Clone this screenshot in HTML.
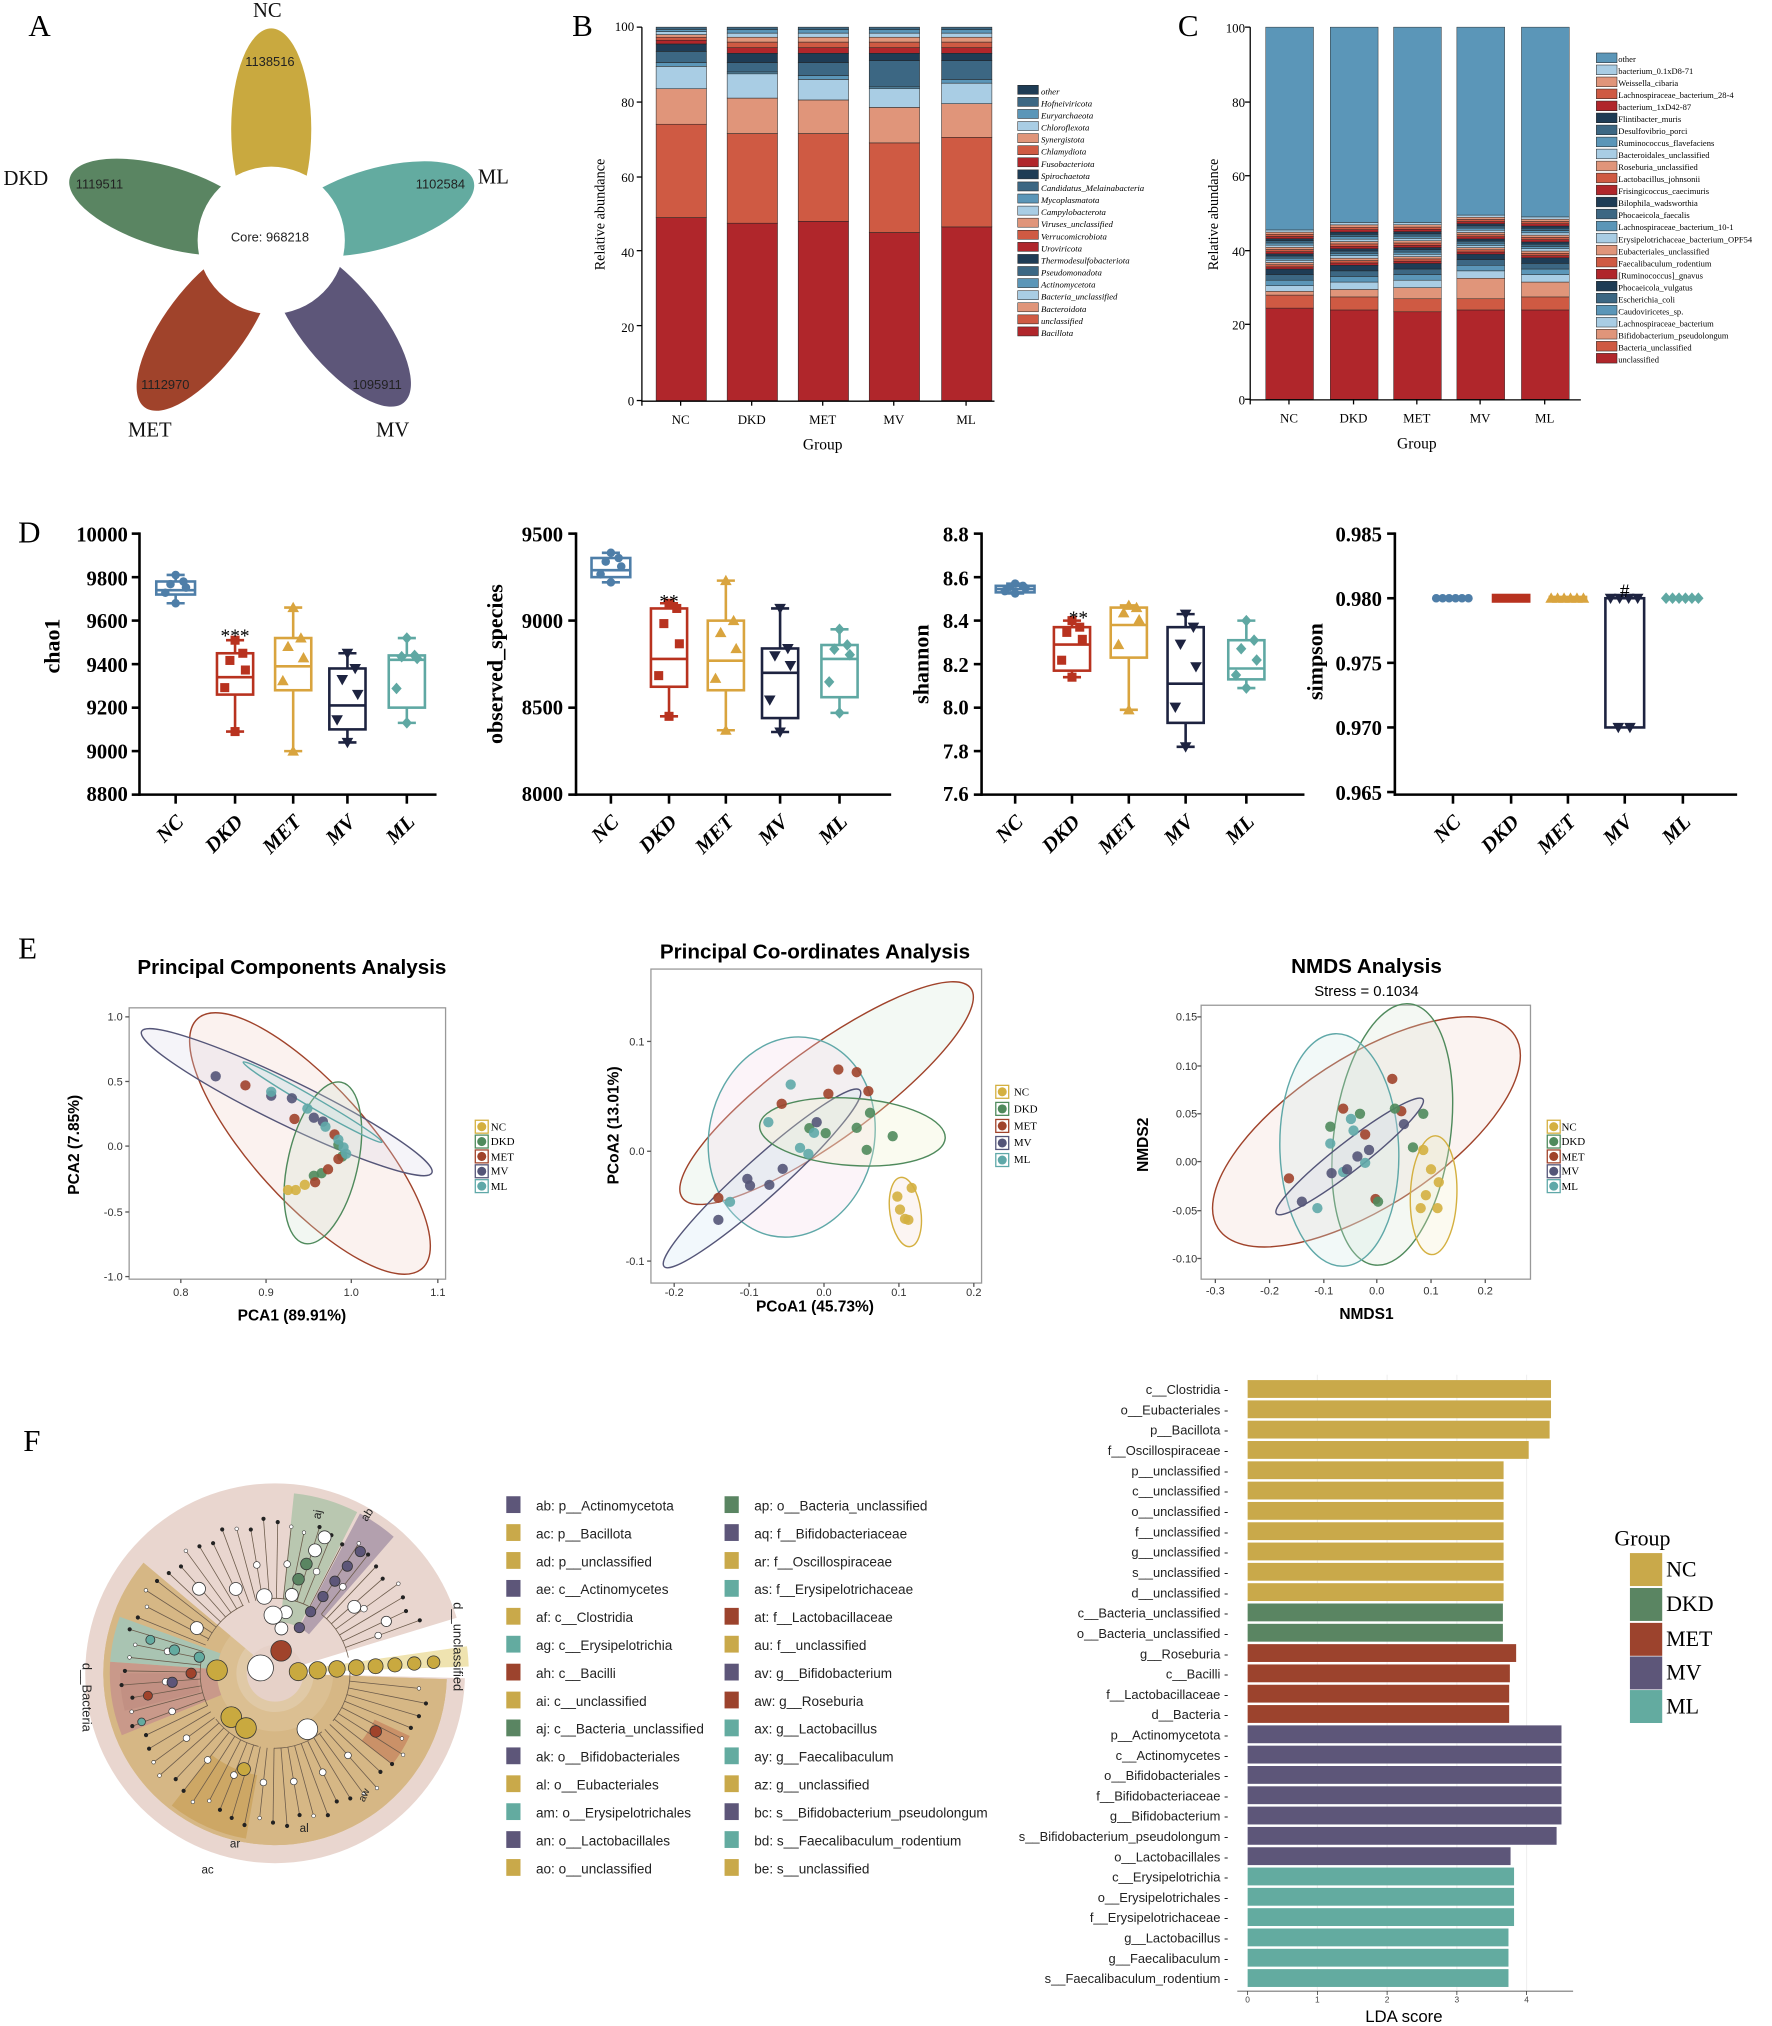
<!DOCTYPE html>
<html><head><meta charset="utf-8">
<style>
html,body{margin:0;padding:0;background:#fff;}
svg{display:block;}
.ser{font-family:"Liberation Serif",serif;}
.sans{font-family:"Liberation Sans",sans-serif;}
</style></head>
<body>
<svg id="s" xmlns="http://www.w3.org/2000/svg" width="1772" height="2026" viewBox="0 0 1372 1568" preserveAspectRatio="none">
<g id="sh"></g>

<!-- Panel A -->
<g>
<ellipse cx="210" cy="100" rx="31" ry="78" fill="#c9a93f"/>
<ellipse cx="210" cy="100" rx="31" ry="78" fill="#63aba0" transform="rotate(74 210 185)"/>
<ellipse cx="210" cy="100" rx="31" ry="78" fill="#5a8562" transform="rotate(-73 210 185)"/>
<ellipse cx="210" cy="100" rx="31" ry="78" fill="#a0432b" transform="rotate(-143 210 185)"/>
<ellipse cx="210" cy="100" rx="31" ry="78" fill="#5d5679" transform="rotate(141 210 185)"/>
<circle cx="210" cy="186" r="57" fill="#fff"/>
<g class="sans" font-size="10" fill="#222" text-anchor="middle">
<text x="209" y="187">Core: 968218</text>
<text x="209" y="51">1138516</text>
<text x="77" y="146">1119511</text>
<text x="341" y="146">1102584</text>
<text x="128" y="301">1112970</text>
<text x="292" y="301">1095911</text>
</g>
<g class="ser" font-size="16" fill="#111" text-anchor="middle">
<text x="207" y="13">NC</text>
<text x="20" y="143">DKD</text>
<text x="382" y="142">ML</text>
<text x="116" y="338">MET</text>
<text x="304" y="338">MV</text>
</g>
<text x="22" y="28" class="ser" font-size="24">A</text>
</g>

<!-- Panel B -->
<g class="ser">
<text x="443" y="28" font-size="24">B</text>
<line x1="497" y1="21" x2="497" y2="311" stroke="#000" stroke-width="1"/>
<line x1="497" y1="310.5" x2="770" y2="310.5" stroke="#000" stroke-width="1"/>
<g font-size="10" text-anchor="end">
<text x="491" y="24">100</text><text x="491" y="83">80</text><text x="491" y="141">60</text><text x="491" y="199">40</text><text x="491" y="257">20</text><text x="491" y="314">0</text>
</g>
<g font-size="10" text-anchor="middle">
<text x="527" y="328">NC</text><text x="582" y="328">DKD</text><text x="637" y="328">MET</text><text x="692" y="328">MV</text><text x="748" y="328">ML</text>
<text x="637" y="348" font-size="12">Group</text>
</g>
<text transform="translate(468 166) rotate(-90)" font-size="11" text-anchor="middle">Relative abundance</text>
<g font-size="6.8" font-style="italic">
<text x="806" y="73">other</text><text x="806" y="82.3">Hofneiviricota</text><text x="806" y="91.7">Euryarchaeota</text><text x="806" y="101">Chloroflexota</text><text x="806" y="110.4">Synergistota</text><text x="806" y="119.7">Chlamydiota</text><text x="806" y="129.1">Fusobacteriota</text><text x="806" y="138.4">Spirochaetota</text><text x="806" y="147.8">Candidatus_Melainabacteria</text><text x="806" y="157.1">Mycoplasmatota</text><text x="806" y="166.5">Campylobacterota</text><text x="806" y="175.8">Viruses_unclassified</text><text x="806" y="185.2">Verrucomicrobiota</text><text x="806" y="194.5">Uroviricota</text><text x="806" y="203.9">Thermodesulfobacteriota</text><text x="806" y="213.2">Pseudomonadota</text><text x="806" y="222.6">Actinomycetota</text><text x="806" y="231.9">Bacteria_unclassified</text><text x="806" y="241.3">Bacteroidota</text><text x="806" y="250.6">unclassified</text><text x="806" y="260">Bacillota</text>
</g>
</g>

<!-- Panel C -->
<g class="ser">
<text x="912" y="28" font-size="24">C</text>
<line x1="968" y1="21" x2="968" y2="310" stroke="#000"/>
<line x1="968" y1="309.5" x2="1224" y2="309.5" stroke="#000"/>
<g font-size="10" text-anchor="end">
<text x="964" y="25">100</text><text x="964" y="83">80</text><text x="964" y="140">60</text><text x="964" y="198">40</text><text x="964" y="255">20</text><text x="964" y="313">0</text>
</g>
<g font-size="10" text-anchor="middle">
<text x="998" y="327">NC</text><text x="1048" y="327">DKD</text><text x="1097" y="327">MET</text><text x="1146" y="327">MV</text><text x="1196" y="327">ML</text>
<text x="1097" y="347" font-size="12">Group</text>
</g>
<text transform="translate(943 166) rotate(-90)" font-size="11" text-anchor="middle">Relative abundance</text>
<g font-size="6.6">
<text x="1253" y="48">other</text><text x="1253" y="57.3">bacterium_0.1xD8-71</text><text x="1253" y="66.6">Weissella_cibaria</text><text x="1253" y="75.9">Lachnospiraceae_bacterium_28-4</text><text x="1253" y="85.2">bacterium_1xD42-87</text><text x="1253" y="94.5">Flintibacter_muris</text><text x="1253" y="103.8">Desulfovibrio_porci</text><text x="1253" y="113.1">Ruminococcus_flavefaciens</text><text x="1253" y="122.4">Bacteroidales_unclassified</text><text x="1253" y="131.7">Roseburia_unclassified</text><text x="1253" y="141">Lactobacillus_johnsonii</text><text x="1253" y="150.3">Frisingicoccus_caecimuris</text><text x="1253" y="159.6">Bilophila_wadsworthia</text><text x="1253" y="168.9">Phocaeicola_faecalis</text><text x="1253" y="178.2">Lachnospiraceae_bacterium_10-1</text><text x="1253" y="187.5">Erysipelotrichaceae_bacterium_OPF54</text><text x="1253" y="196.8">Eubacteriales_unclassified</text><text x="1253" y="206.1">Faecalibaculum_rodentium</text><text x="1253" y="215.4">[Ruminococcus]_gnavus</text><text x="1253" y="224.7">Phocaeicola_vulgatus</text><text x="1253" y="234">Escherichia_coli</text><text x="1253" y="243.3">Caudoviricetes_sp.</text><text x="1253" y="252.6">Lachnospiraceae_bacterium</text><text x="1253" y="261.9">Bifidobacterium_pseudolongum</text><text x="1253" y="271.2">Bacteria_unclassified</text><text x="1253" y="280.5">unclassified</text>
</g>
</g>

<!-- Panel D -->
<g class="ser" font-weight="bold">
<text x="14" y="420" font-size="24" font-weight="normal">D</text>
<g font-size="16" text-anchor="end">
<text x="99" y="419">10000</text><text x="99" y="453">9800</text><text x="99" y="486">9600</text><text x="99" y="520">9400</text><text x="99" y="553">9200</text><text x="99" y="587">9000</text><text x="99" y="620">8800</text>
<text x="436" y="419">9500</text><text x="436" y="486">9000</text><text x="436" y="553">8500</text><text x="436" y="620">8000</text>
<text x="750" y="419">8.8</text><text x="750" y="453">8.6</text><text x="750" y="486">8.4</text><text x="750" y="520">8.2</text><text x="750" y="553">8.0</text><text x="750" y="587">7.8</text><text x="750" y="620">7.6</text>
<text x="1070" y="419">0.985</text><text x="1070" y="469">0.980</text><text x="1070" y="519">0.975</text><text x="1070" y="569">0.970</text><text x="1070" y="619">0.965</text>
</g>
<g font-size="17" text-anchor="middle">
<text transform="translate(46 500) rotate(-90)">chao1</text>
<text transform="translate(389 514) rotate(-90)">observed_species</text>
<text transform="translate(719 514) rotate(-90)">shannon</text>
<text transform="translate(1024 512) rotate(-90)">simpson</text>
</g>
<g font-size="16" font-style="italic" text-anchor="end">
<text transform="translate(143 637) rotate(-45)">NC</text><text transform="translate(189 637) rotate(-45)">DKD</text><text transform="translate(234 637) rotate(-45)">MET</text><text transform="translate(276 637) rotate(-45)">MV</text><text transform="translate(322 637) rotate(-45)">ML</text>
<text transform="translate(480 637) rotate(-45)">NC</text><text transform="translate(525 637) rotate(-45)">DKD</text><text transform="translate(569 637) rotate(-45)">MET</text><text transform="translate(611 637) rotate(-45)">MV</text><text transform="translate(657 637) rotate(-45)">ML</text>
<text transform="translate(793 637) rotate(-45)">NC</text><text transform="translate(837 637) rotate(-45)">DKD</text><text transform="translate(881 637) rotate(-45)">MET</text><text transform="translate(925 637) rotate(-45)">MV</text><text transform="translate(972 637) rotate(-45)">ML</text>
<text transform="translate(1132 637) rotate(-45)">NC</text><text transform="translate(1177 637) rotate(-45)">DKD</text><text transform="translate(1221 637) rotate(-45)">MET</text><text transform="translate(1265 637) rotate(-45)">MV</text><text transform="translate(1310 637) rotate(-45)">ML</text>
</g>
<g font-size="15" font-weight="normal" text-anchor="middle">
<text x="182" y="497">***</text><text x="518" y="470">**</text><text x="835" y="483">**</text><text x="1258" y="462">#</text>
</g>
</g>

<!-- Panel E -->
<g class="sans">
<text x="14" y="742" font-size="24" class="ser">E</text>
<g font-size="16" font-weight="bold" text-anchor="middle">
<text x="226" y="754">Principal Components Analysis</text>
<text x="631" y="742">Principal Co-ordinates Analysis</text>
<text x="1058" y="753">NMDS Analysis</text>
</g>
<text x="1058" y="771" font-size="11.5" text-anchor="middle">Stress = 0.1034</text>
<g font-size="12" font-weight="bold" text-anchor="middle">
<text x="226" y="1022">PCA1 (89.91%)</text>
<text transform="translate(61 886) rotate(-90)">PCA2 (7.85%)</text>
<text x="631" y="1015">PCoA1 (45.73%)</text>
<text transform="translate(479 871) rotate(-90)">PCoA2 (13.01%)</text>
<text x="1058" y="1021">NMDS1</text>
<text transform="translate(889 886) rotate(-90)">NMDS2</text>
</g>
<g font-size="8.5" fill="#333" text-anchor="end">
<text x="95" y="790">1.0</text><text x="95" y="840">0.5</text><text x="95" y="890">0.0</text><text x="95" y="941">-0.5</text><text x="95" y="991">-1.0</text>
<text x="499" y="809">0.1</text><text x="499" y="894">0.0</text><text x="499" y="979">-0.1</text>
<text x="927" y="790">0.15</text><text x="927" y="828">0.10</text><text x="927" y="865">0.05</text><text x="927" y="902">0.00</text><text x="927" y="940">-0.05</text><text x="927" y="977">-0.10</text>
</g>
<g font-size="8.5" fill="#333" text-anchor="middle">
<text x="140" y="1003">0.8</text><text x="206" y="1003">0.9</text><text x="272" y="1003">1.0</text><text x="339" y="1003">1.1</text>
<text x="522" y="1003">-0.2</text><text x="580" y="1003">-0.1</text><text x="638" y="1003">0.0</text><text x="696" y="1003">0.1</text><text x="754" y="1003">0.2</text>
<text x="941" y="1002">-0.3</text><text x="983" y="1002">-0.2</text><text x="1025" y="1002">-0.1</text><text x="1066" y="1002">0.0</text><text x="1108" y="1002">0.1</text><text x="1150" y="1002">0.2</text>
</g>
<g font-size="8.5" class="ser">
<text x="380" y="875">NC</text><text x="380" y="886">DKD</text><text x="380" y="898">MET</text><text x="380" y="909">MV</text><text x="380" y="921">ML</text>
<text x="785" y="848">NC</text><text x="785" y="861">DKD</text><text x="785" y="874">MET</text><text x="785" y="887">MV</text><text x="785" y="900">ML</text>
<text x="1209" y="875">NC</text><text x="1209" y="886">DKD</text><text x="1209" y="898">MET</text><text x="1209" y="909">MV</text><text x="1209" y="921">ML</text>
</g>
</g>

<!-- Panel F -->
<g>
<text x="18" y="1123" font-size="24" class="ser">F</text>
<g class="sans" font-size="10" fill="#222">
<text x="351" y="1240" transform="rotate(90 351 1240)">d__unclassified</text>
<text x="64" y="1287" transform="rotate(90 64 1287)">d__Bacteria</text>
<text x="156" y="1450" font-size="9">ac</text>
<text x="178" y="1430" font-size="9">ar</text>
<text x="232" y="1418" font-size="9">al</text>
<text x="248" y="1176" font-size="9" transform="rotate(-80 248 1176)">aj</text>
<text x="284" y="1178" font-size="9" transform="rotate(-58 284 1178)">ab</text>
<text x="282" y="1395" font-size="8" transform="rotate(-65 282 1395)">aw</text>
</g>
<g class="sans" font-size="10.5" fill="#222">
<text x="415" y="1169">ab: p__Actinomycetota</text><text x="415" y="1190.6">ac: p__Bacillota</text><text x="415" y="1212.2">ad: p__unclassified</text><text x="415" y="1233.8">ae: c__Actinomycetes</text><text x="415" y="1255.4">af: c__Clostridia</text><text x="415" y="1277">ag: c__Erysipelotrichia</text><text x="415" y="1298.6">ah: c__Bacilli</text><text x="415" y="1320.2">ai: c__unclassified</text><text x="415" y="1341.8">aj: c__Bacteria_unclassified</text><text x="415" y="1363.4">ak: o__Bifidobacteriales</text><text x="415" y="1385">al: o__Eubacteriales</text><text x="415" y="1406.6">am: o__Erysipelotrichales</text><text x="415" y="1428.2">an: o__Lactobacillales</text><text x="415" y="1449.8">ao: o__unclassified</text>
<text x="584" y="1169">ap: o__Bacteria_unclassified</text><text x="584" y="1190.6">aq: f__Bifidobacteriaceae</text><text x="584" y="1212.2">ar: f__Oscillospiraceae</text><text x="584" y="1233.8">as: f__Erysipelotrichaceae</text><text x="584" y="1255.4">at: f__Lactobacillaceae</text><text x="584" y="1277">au: f__unclassified</text><text x="584" y="1298.6">av: g__Bifidobacterium</text><text x="584" y="1320.2">aw: g__Roseburia</text><text x="584" y="1341.8">ax: g__Lactobacillus</text><text x="584" y="1363.4">ay: g__Faecalibaculum</text><text x="584" y="1385">az: g__unclassified</text><text x="584" y="1406.6">bc: s__Bifidobacterium_pseudolongum</text><text x="584" y="1428.2">bd: s__Faecalibaculum_rodentium</text><text x="584" y="1449.8">be: s__unclassified</text>
</g>
<g class="sans" font-size="10" fill="#222" text-anchor="end">
<text x="951" y="1079">c__Clostridia -</text><text x="951" y="1094.7">o__Eubacteriales -</text><text x="951" y="1110.4">p__Bacillota -</text><text x="951" y="1126.2">f__Oscillospiraceae -</text><text x="951" y="1141.9">p__unclassified -</text><text x="951" y="1157.6">c__unclassified -</text><text x="951" y="1173.3">o__unclassified -</text><text x="951" y="1189">f__unclassified -</text><text x="951" y="1204.8">g__unclassified -</text><text x="951" y="1220.5">s__unclassified -</text><text x="951" y="1236.2">d__unclassified -</text><text x="951" y="1251.9">c__Bacteria_unclassified -</text><text x="951" y="1267.6">o__Bacteria_unclassified -</text><text x="951" y="1283.4">g__Roseburia -</text><text x="951" y="1299.1">c__Bacilli -</text><text x="951" y="1314.8">f__Lactobacillaceae -</text><text x="951" y="1330.5">d__Bacteria -</text><text x="951" y="1346.2">p__Actinomycetota -</text><text x="951" y="1362">c__Actinomycetes -</text><text x="951" y="1377.7">o__Bifidobacteriales -</text><text x="951" y="1393.4">f__Bifidobacteriaceae -</text><text x="951" y="1409.1">g__Bifidobacterium -</text><text x="951" y="1424.8">s__Bifidobacterium_pseudolongum -</text><text x="951" y="1440.6">o__Lactobacillales -</text><text x="951" y="1456.3">c__Erysipelotrichia -</text><text x="951" y="1472">o__Erysipelotrichales -</text><text x="951" y="1487.7">f__Erysipelotrichaceae -</text><text x="951" y="1503.4">g__Lactobacillus -</text><text x="951" y="1519.2">g__Faecalibaculum -</text><text x="951" y="1534.9">s__Faecalibaculum_rodentium -</text>
</g>
<g class="sans" font-size="6.5" fill="#444" text-anchor="middle">
<text x="966" y="1550">0</text><text x="1020" y="1550">1</text><text x="1074" y="1550">2</text><text x="1128" y="1550">3</text><text x="1182" y="1550">4</text>
</g>
<text x="1087" y="1565" class="sans" font-size="13" text-anchor="middle">LDA score</text>
<g class="ser" font-size="17">
<text x="1250" y="1196">Group</text>
<text x="1290" y="1220">NC</text><text x="1290" y="1247">DKD</text><text x="1290" y="1274">MET</text><text x="1290" y="1300">MV</text><text x="1290" y="1326">ML</text>
</g>
</g>

<script>
(function(){
const NS='http://www.w3.org/2000/svg';
const G=document.getElementById('sh');
function E(t,a,p){const e=document.createElementNS(NS,t);for(const k in a)e.setAttribute(k,a[k]);(p||G).appendChild(e);return e;}
const cyc=['#b0262b','#cf5a43','#e0957a','#a9cde4','#5b96b8','#3c6783','#1e3c55'];
const bx=[508,563,618,673,729];
const bd=[[49,74,83.5,89.5,90.5,93.5,95.5,96.5,97.3,98,98.8,99.4,100],
[47.5,71.5,81,87.5,88,90.5,93,94.5,96,97.3,98.4,99.3,100],
[48,71.5,80.5,86,87,90.5,93,94.5,96,97.3,98.4,99.3,100],
[45,69,78.5,83.5,84,91,93,94.5,96,97.3,98.4,99.3,100],
[46.5,70.5,79.5,85,86,91,93,94.5,96,97.3,98.4,99.3,100]];
const yB=v=>310-v*2.89;
bd.forEach((arr,i)=>{let prev=0;arr.forEach((v,j)=>{E('rect',{x:bx[i],y:yB(v),width:39,height:yB(prev)-yB(v),fill:cyc[j%7],stroke:'#222','stroke-width':0.4});prev=v;});});
for(let i=0;i<21;i++){E('rect',{x:788,y:66+i*9.35,width:16,height:7,fill:cyc[(20-i)%7],stroke:'#222','stroke-width':0.4});}
[497,527,582,637,692,748].forEach(x=>E('line',{x1:x,y1:310,x2:x,y2:314,stroke:'#000'}));
[21,79,137,194,252,310].forEach(y=>E('line',{x1:493,y1:y,x2:497,y2:y,stroke:'#000'}));
const cx=[980,1030,1079,1128,1178];
const cf=[[24.5,28,29,30.5,32,33.5,35,45.5],[24,27.5,29.5,31.5,33,34.5,36,47.5],[23.5,27,30,32,33.5,35,36.5,47.5],[24,27,32.5,34.5,36,37.5,39,49.5],[24,27.5,31.5,33.5,35,36.5,38,49]];
const yC=v=>309-v*2.88;
cf.forEach((a,i)=>{let vals=a.slice(0,7);const s=a[6],t=a[7];for(let k=1;k<=18;k++)vals.push(s+(t-s)*k/18);vals.push(100);
 let prev=0;vals.forEach((v,j)=>{E('rect',{x:cx[i],y:yC(v),width:37,height:Math.max(0.3,yC(prev)-yC(v)),fill:j==25?'#5b96b8':cyc[j%7],stroke:'#222','stroke-width':0.35});prev=v;});});
const cyc2=['#5b96b8','#a9cde4','#e0957a','#cf5a43','#b0262b','#1e3c55','#3c6783'];
for(let i=0;i<26;i++){E('rect',{x:1236,y:41+i*9.3,width:16,height:7.5,fill:cyc2[i%7],stroke:'#222','stroke-width':0.4});}
[968,998,1048,1097,1146,1196].forEach(x=>E('line',{x1:x,y1:309,x2:x,y2:313,stroke:'#000'}));
[21,79,136,194,251,309].forEach(y=>E('line',{x1:964,y1:y,x2:968,y2:y,stroke:'#000'}));
const cols=['#4e7ea8','#b8321f','#d9a43e','#1d2340','#5fa8a3'];
function marker(k,x,y,c){
 if(k==0)E('circle',{cx:x,cy:y,r:3.3,fill:c});
 else if(k==1)E('rect',{x:x-3.5,y:y-3.5,width:7,height:7,fill:c});
 else if(k==2)E('polygon',{points:`${x},${y-4.5} ${x+4.5},${y+3.5} ${x-4.5},${y+3.5}`,fill:c});
 else if(k==3)E('polygon',{points:`${x},${y+4.5} ${x+4.5},${y-3.5} ${x-4.5},${y-3.5}`,fill:c});
 else E('polygon',{points:`${x},${y-4.5} ${x+4},${y} ${x},${y+4.5} ${x-4},${y}`,fill:c});
}
function axes(x0,x1,ticksY,cats){
 E('line',{x1:x0,y1:412,x2:x0,y2:616,stroke:'#000','stroke-width':2});
 E('line',{x1:x0-1,y1:615,x2:x1,y2:615,stroke:'#000','stroke-width':2});
 ticksY.forEach(y=>E('line',{x1:x0-6,y1:y,x2:x0,y2:y,stroke:'#000','stroke-width':2}));
 cats.forEach(x=>E('line',{x1:x,y1:615,x2:x,y2:622,stroke:'#000','stroke-width':2}));
}
function box(x,f,q1,q3,md,lo,hi,k,w){
 const c=cols[k];w=w||28;
 E('line',{x1:x,y1:f(hi),x2:x,y2:f(lo),stroke:c,'stroke-width':2});
 E('line',{x1:x-7,y1:f(hi),x2:x+7,y2:f(hi),stroke:c,'stroke-width':2});
 E('line',{x1:x-7,y1:f(lo),x2:x+7,y2:f(lo),stroke:c,'stroke-width':2});
 E('rect',{x:x-w/2,y:f(q3),width:w,height:f(q1)-f(q3),fill:'#fff',stroke:c,'stroke-width':2});
 E('line',{x1:x-w/2,y1:f(md),x2:x+w/2,y2:f(md),stroke:c,'stroke-width':2});
 const vs=[lo,q1+(md-q1)*0.4,md+(q3-md)*0.3,(q3+md)/2+ (q3-md)*0.2,q3,hi];
 const jx=[0,-8,8,-4,6,0];
 vs.forEach((v,i)=>marker(k,x+jx[i],f(v),c));
}
const yc=v=>413+(10000-v)/1200*202;
axes(108,338,[413,446.7,480.3,514,547.7,581.3,615],[136,182,227,269,315]);
box(136,yc,9720,9780,9740,9680,9810,0,30);
box(182,yc,9260,9450,9340,9090,9510,1);
box(227,yc,9280,9520,9390,9000,9660,2);
box(269,yc,9100,9380,9210,9040,9450,3);
box(315,yc,9200,9440,9420,9130,9520,4);
const yo=v=>413+(9500-v)/1500*202;
axes(446,690,[413,480.3,547.7,615],[473,518,562,604,650]);
box(473,yo,9250,9360,9290,9220,9390,0,30);
box(518,yo,8620,9070,8780,8450,9100,1);
box(562,yo,8600,9000,8770,8370,9230,2);
box(604,yo,8440,8840,8700,8360,9070,3);
box(650,yo,8560,8860,8780,8470,8950,4);
const ys=v=>413+(8.8-v)/1.2*202;
axes(760,1010,[413,446.7,480.3,514,547.7,581.3,615],[786,830,874,918,965]);
box(786,ys,8.53,8.56,8.545,8.525,8.57,0,30);
box(830,ys,8.17,8.37,8.29,8.14,8.40,1);
box(874,ys,8.23,8.46,8.38,7.99,8.47,2);
box(918,ys,7.93,8.37,8.11,7.82,8.43,3);
box(965,ys,8.13,8.31,8.18,8.09,8.40,4);
const yp=v=>413+(0.985-v)/0.02*200;
axes(1080,1345,[413,463,513,563,613],[1125,1170,1214,1258,1303]);
const y98=yp(0.98);
for(let i=0;i<6;i++){marker(0,1112+i*5,y98,cols[0]);marker(4,1290+i*5,y98,cols[4]);marker(2,1201+i*5,y98,cols[2]);}
E('rect',{x:1155,y:y98-3.5,width:30,height:7,fill:cols[1]});
E('rect',{x:1199,y:y98-2,width:30,height:4,fill:cols[2]});
E('rect',{x:1243,y:y98,width:30,height:yp(0.97)-y98,fill:'#fff',stroke:cols[3],'stroke-width':2});
for(let i=0;i<4;i++)marker(3,1247+i*7,y98,cols[3]);
marker(3,1253,yp(0.97),cols[3]);marker(3,1262,yp(0.97),cols[3]);
const gc={NC:'#d4b040',DKD:'#4f8a5c',MET:'#a0432b',MV:'#545578',ML:'#5fa8a8'};
function frame(x,y,w,h,xt,yt){E('rect',{x:x,y:y,width:w,height:h,fill:'#fff',stroke:'#999','stroke-width':1});
 xt.forEach(t=>E('line',{x1:t,y1:y+h,x2:t,y2:y+h+3,stroke:'#555'}));yt.forEach(t=>E('line',{x1:x-3,y1:t,x2:x,y2:t,stroke:'#555'}));}
function ell(cx,cy,rx,ry,ang,fill,st){E('ellipse',{cx:cx,cy:cy,rx:rx,ry:ry,transform:`rotate(${ang} ${cx} ${cy})`,fill:fill,'fill-opacity':0.28,stroke:st,'stroke-width':1.1});}
function pts(list,c){list.forEach(p=>E('circle',{cx:p[0],cy:p[1],r:4,fill:c,'fill-opacity':0.9}));}
function legend(x,y0,step){['NC','DKD','MET','MV','ML'].forEach((g,i)=>{const y=y0+i*step;E('rect',{x:x,y:y-5,width:10,height:10,fill:'#fff',stroke:gc[g],'stroke-width':1});E('circle',{cx:x+5,cy:y,r:3.5,fill:gc[g]});});}
frame(100,780,245,210,[140,206,272,339],[787,837,887,938,988]);
ell(240,885,130,45,48,'#f1cfc6',gc.MET);
ell(222,853,125,17,26,'#dcd8ea',gc.MV);
ell(250,900,64,27,-77,'#cfe3d2',gc.DKD);
ell(242,853,62,4,30,'#c6e6e6',gc.ML);
pts([[223,921],[229,921],[236,917]],gc.NC);
pts([[243,910],[249,908],[265,895],[262,886]],gc.DKD);
pts([[190,840],[228,866],[259,878],[262,897],[254,905],[244,915]],gc.MET);
pts([[167,833],[210,848],[226,850],[243,865],[250,868]],gc.MV);
pts([[210,845],[238,858],[252,872],[262,882],[266,888],[268,893]],gc.ML);
legend(368,872,11.5);
frame(504,750,256,243,[522,580,638,696,754],[806,891,976]);
const pc=(zx,zy)=>[(560+zx/3)/1.2915,(950+zy/3)/1.2915];
ell(640,846,138,36,-36,'#d5e8d8',gc.MET);
ell(613,880,64,78,12,'#f3d6e8',gc.ML);
ell(590,912,102,15,-42,'#cfe6f3',gc.MV);
ell(660,876,72,26,4,'#ecefc8',gc.DKD);
ell(701,938,12,27,-8,'#f6dcd0',gc.NC);
const P=(l,c)=>pts(l.map(p=>pc(p[0],p[1])),c);
P([[835,357],[890,365],[925,422],[805,430],[665,460],[475,742]],gc.MET);
P([[998,557],[890,532],[920,598],[797,548],[748,533],[930,487]],gc.DKD);
P([[770,515],[668,655],[562,685],[570,705],[628,703],[475,808]],gc.MV);
P([[692,402],[625,515],[762,547],[720,592],[745,610],[510,754]],gc.ML);
P([[1055,712],[1012,738],[1020,777],[1035,805],[1045,808]],gc.NC);
legend(771,845,13.2);
frame(930,778,255,212,[941,983,1025,1066,1108,1150],[787,825,862,899,937,974]);
ell(1058,876,137,58,-33,'#f0d3cb',gc.MET);
ell(1078,878,45,102,8,'#d7e6d4',gc.DKD);
ell(1037,890,46,90,-2,'#cfe9e6',gc.ML);
ell(1045,895,72,11,-38,'#d8d6ea',gc.MV);
ell(1110,925,18,46,2,'#f4ecc8',gc.NC);
pts([[998,912],[1040,858],[1078,835],[1085,860],[1057,878],[1065,928]],gc.MET);
pts([[1094,888],[1067,930],[1102,862],[1053,862],[1030,872],[1080,858]],gc.DKD);
pts([[1020,935],[1048,875],[1057,900],[1030,885],[1040,907],[1046,866]],gc.ML);
pts([[1008,930],[1031,908],[1043,905],[1060,890],[1051,895],[1087,870]],gc.MV);
pts([[1102,890],[1108,905],[1114,915],[1104,925],[1100,935],[1113,935]],gc.NC);
legend(1198,872,11.5);
const lc=['MV','NC','NC','MV','NC','ML','MET','NC','DKD','MV','NC','ML','MV','NC'];
const lc2=['DKD','MV','NC','ML','MET','NC','MV','MET','ML','ML','NC','MV','ML','NC'];
const fc={NC:'#c9a94a',DKD:'#5a8562',MET:'#9c432d',MV:'#5d5679',ML:'#63aba0'};
for(let i=0;i<14;i++){E('rect',{x:392,y:1158+i*21.6,width:11,height:13,fill:fc[lc[i]]});E('rect',{x:561,y:1158+i*21.6,width:11,height:13,fill:fc[lc2[i]]});}
[1020,1074,1128,1182].forEach(x=>E('line',{x1:x,y1:1064,x2:x,y2:1540,stroke:'#eee','stroke-width':0.8}));
E('line',{x1:958,y1:1541,x2:1218,y2:1541,stroke:'#333','stroke-width':0.6});
[966,1020,1074,1128,1182].forEach(x=>E('line',{x1:x,y1:1541,x2:x,y2:1544,stroke:'#333','stroke-width':0.6}));
const lda=[4.35,4.35,4.33,4.03,3.67,3.67,3.67,3.67,3.67,3.67,3.67,3.66,3.66,3.85,3.76,3.75,3.75,4.5,4.5,4.5,4.5,4.5,4.43,3.77,3.82,3.82,3.82,3.74,3.74,3.74];
const lg=i=>i<11?'NC':i<13?'DKD':i<17?'MET':i<24?'MV':'ML';
lda.forEach((v,i)=>E('rect',{x:966,y:1075+i*15.72-6.9,width:v*54,height:13.8,fill:fc[lg(i)]}));
['NC','DKD','MET','MV','ML'].forEach((g,i)=>E('rect',{x:1262,y:[1202,1229,1256,1282,1308][i],width:25,height:25.5,fill:fc[g]}));
const C=[213,1295];
const pol=(r,a)=>[C[0]+r*Math.cos(a*Math.PI/180),C[1]+r*Math.sin(a*Math.PI/180)];
function sec(r0,r1,a0,a1,fill,op){const p1=pol(r1,a0),p2=pol(r1,a1),p3=pol(r0,a1),p4=pol(r0,a0);const lg=(a1-a0)>180?1:0;
 E('path',{d:`M${p1} A${r1},${r1} 0 ${lg} 1 ${p2} L${p3} A${r0},${r0} 0 ${lg} 0 ${p4}Z`,fill:fill,'fill-opacity':op||1});}
E('circle',{cx:C[0],cy:C[1],r:147,fill:'#e9d6cf'});
sec(20,133,2,220,'#e0c9a6');
sec(30,133,2,220,'#dbbf92');
sec(45,133,2,220,'#d6b785');
sec(80,130,100,128,'#cda765');
sec(85,115,25,38,'#c4805b',0.7);
sec(45,128,158,184,'#c9998a');
sec(60,120,166,180,'#be8a7e',0.6);
sec(45,128,184,200,'#a9c4b2');
sec(40,140,276,297,'#b9c7b0');
sec(40,140,298,311,'#b3a0ae');
sec(22,160,343,361.5,'#ffffff');
sec(40,150,352,358,'#efe3b0');
E('circle',{cx:C[0],cy:C[1],r:22,fill:'#e6d1c8'});
for(let a=6;a<340;a+=5.3){
 const r2=110+((a*7)%10);
 const p0=pol(58,a),p1=pol(r2,a);
 E('line',{x1:p0[0],y1:p0[1],x2:p1[0],y2:p1[1],stroke:'#6b5a4a','stroke-width':0.6});
 E('circle',{cx:p1[0],cy:p1[1],r:1.4,fill:(Math.round(a)%3)?'#222':'#fff',stroke:'#222','stroke-width':0.4});
 if(Math.round(a)%4==0){const pm=pol(85,a);E('circle',{cx:pm[0],cy:pm[1],r:2.6,fill:'#fff',stroke:'#333','stroke-width':0.5});}
}
E('circle',{cx:C[0],cy:C[1],r:58,fill:'none',stroke:'#6b5a4a','stroke-width':0.6,'stroke-dasharray':'40 12'});
for(let r=18,i=0;r<=125;r+=15,i++){const p=pol(r,-4);E('circle',{cx:p[0],cy:p[1],r:7-i*0.3,fill:'#c9a93f',stroke:'#333','stroke-width':0.6});}
function node(r,a,rad,fill){const p=pol(r,a);E('circle',{cx:p[0],cy:p[1],r:rad,fill:fill,stroke:'#333','stroke-width':0.6});}
node(12,200,10,'#fff');node(18,-75,8,'#a0432b');
[[35,-82],[48,-80],[62,-78]].forEach(q=>node(q[0],q[1],5,'#fff'));
node(75,-76,4.5,'#5a8562');node(88,-74,4.5,'#5a8562');node(100,-72,5,'#fff');node(112,-70,5,'#fff');
[[40,-62],[55,-60],[70,-58],[85,-57],[100,-56],[115,-55]].forEach(q=>node(q[0],q[1],4,'#5d5679'));
node(45,183,8,'#c9a93f');node(65,180,4,'#a0432b');node(80,175,4,'#5d5679');node(100,170,3.5,'#a0432b');
node(60,192,4,'#63aba0');node(80,193,4,'#63aba0');node(100,195,3.5,'#63aba0');node(110,160,3,'#63aba0');
node(48,135,8,'#c9a93f');node(48,118,8,'#c9a93f');node(78,108,5,'#c9a93f');
node(50,60,8,'#fff');node(90,30,4.5,'#a0432b');node(80,-40,5,'#fff');node(95,-25,4,'#fff');
node(70,210,5,'#fff');node(88,228,5,'#fff');node(72,245,5,'#fff');node(60,262,6,'#fff');node(45,268,7,'#fff');
})();
</script>
</svg>
</body></html>
